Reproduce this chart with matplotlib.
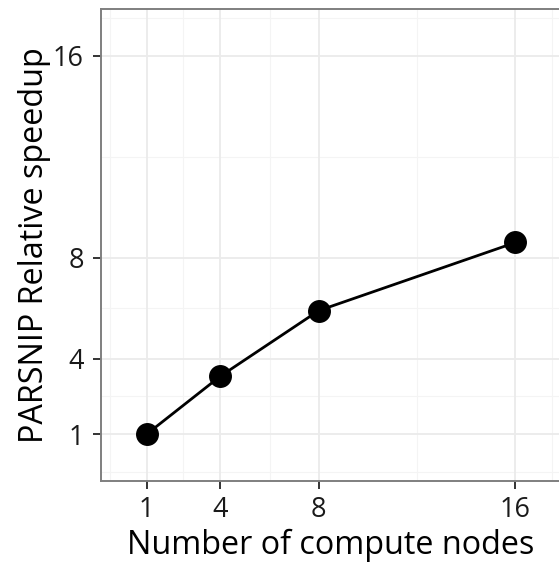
import matplotlib
matplotlib.use("Agg")
import matplotlib.pyplot as plt

# data
nodes = [1, 4, 8, 16]
speedup = [1.0, 3.3, 5.9, 8.6]
ticks = [1, 4, 8, 16]
minor_ticks = [-0.5, 2.5, 6, 12, 17.5]

plt.rcParams["font.family"] = ["Open Sans", "DejaVu Sans"]

fig = plt.figure(figsize=(5.59, 5.62), dpi=100)
# panel runs slightly past the right edge of the figure, as in the original
ax = fig.add_axes([101 / 559, 81 / 562, 460 / 559, 472 / 562])

ax.set_xlim(-0.85, 17.85)
ax.set_ylim(-0.85, 17.85)

# theme_bw style grid
for v in minor_ticks:
    ax.axvline(v, color="#F4F4F4", lw=0.8, zorder=0)
    ax.axhline(v, color="#F4F4F4", lw=0.8, zorder=0)
for v in ticks:
    ax.axvline(v, color="#EBEBEB", lw=1.3, zorder=0)
    ax.axhline(v, color="#EBEBEB", lw=1.3, zorder=0)

ax.plot(nodes, speedup, color="black", lw=2, marker="o", markersize=15.5, zorder=3)

ax.set_xticks(ticks)
ax.set_yticks(ticks)
ax.set_xticklabels([str(t) for t in ticks])
ax.set_yticklabels([str(t) for t in ticks])
ax.tick_params(axis="both", length=6, width=1.4, color="#333333",
               labelsize=19.5, labelcolor="#1a1a1a")
ax.tick_params(axis="x", pad=5)
ax.tick_params(axis="y", pad=6.5)

for sp in ax.spines.values():
    sp.set_color("#7F7F7F")
    sp.set_linewidth(1.4)

ax.set_xlabel("Number of compute nodes", fontsize=23.3, labelpad=3.5)
ax.set_ylabel("PARSNIP Relative speedup", fontsize=23.3, labelpad=1)

fig.savefig("out.png", dpi=100)
